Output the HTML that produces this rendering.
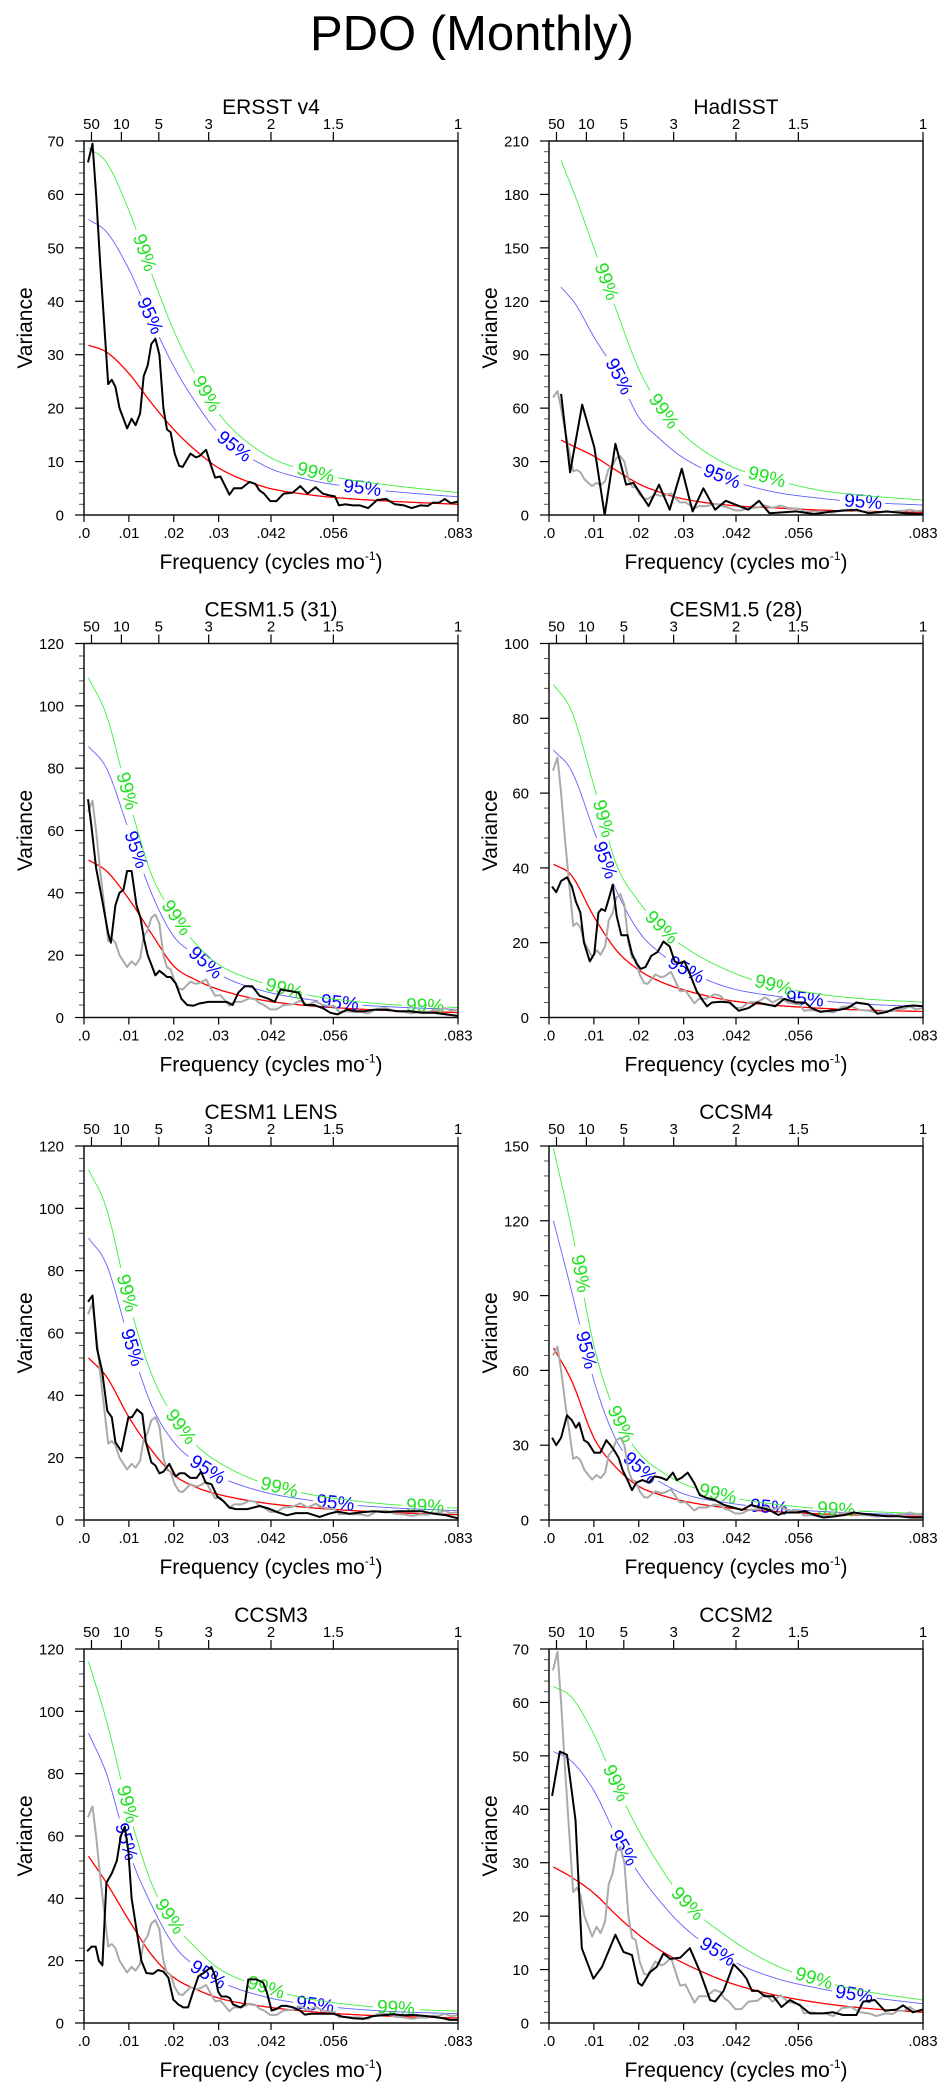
<!DOCTYPE html>
<html><head><meta charset="utf-8"><title>PDO (Monthly)</title>
<style>
html,body{margin:0;padding:0;background:#fff;}
svg{display:block;font-family:"Liberation Sans",Arial,sans-serif;}
</style></head>
<body>
<svg id="fig" width="945" height="2091" viewBox="0 0 945 2091" xmlns="http://www.w3.org/2000/svg">
<rect x="0" y="0" width="945" height="2091" fill="#fff"/>
<text x="472" y="50" font-size="49" text-anchor="middle">PDO (Monthly)</text>
</svg>
<script>
// ---------- data (frequencies in 1e-3 cycles/month) ----------
const panelTitles = ["ERSST v4","HadISST","CESM1.5 (31)","CESM1.5 (28)","CESM1 LENS","CCSM4","CCSM3","CCSM2"];
const yMaxes = [70,210,120,100,120,150,120,70];
const yMajorSteps = [10,30,20,20,20,30,20,10];
const bottomTickFreqs = [0,10,20,30,41.667,55.556,83.333];
const bottomTickLabels = [".0",".01",".02",".03",".042",".056",".083"];
const topTickPeriods = [50,10,5,3,2,1.5,1];
const topTickLabels = ["50","10","5","3","2","1.5","1"];

const curveFreq = [1,5,10,15,20,25,30,40,50,60,70,83.3];
const hadCurveFreq = [2.7,6,10,15,20,25,30,40,50,60,70,83.3];

const red1 = [31.8,30.5,26.5,21,16,12,8.8,5.3,3.8,3.0,2.5,2.0];
const sig95_1 = [55.3,53,46,36.5,27.8,20.9,15.3,9.3,6.6,5.2,4.3,3.4];
const sig99_1 = [68.7,66,57,45.3,34.5,26,19,11.5,8.2,6.5,5.4,4.2];
const red2 = [42,38,33,25,17.5,12.5,9,5.5,4,2.8,2.1,1.5];
const sig95_2 = [128,118,100,80,55,42,32,20,13,9.5,7.2,5.6];
const sig99_2 = [199,178,150,115,82,60,45,28,20,14,11,8.4];
const red3 = [50.5,47,38,27,16.5,12,9,5.5,3.8,2.8,2.1,1.6];
const sig95_3 = [87,80,60,40,26,20,14,8.5,5.8,4.2,3.3,2.6];
const sig99_3 = [109,97,70,46,33,23.5,17,11,7.2,5.2,4,3.2];
const red4 = [41,38,27,18,12.7,9.5,7.4,4.6,3.3,2.5,2,1.6];
const sig95_4 = [71.5,66,50,34,23,17,13,8,5.8,4.5,3.6,2.9];
const sig99_4 = [89,82,62,41,31,24,19,12.5,8.5,6.3,5,4.1];
const red5 = [52,46,33,22.5,14.5,10.5,8.2,5.5,4,3,2.3,1.7];
const sig95_5 = [90.5,82,58,37,25,18.5,14,9,6.4,4.8,3.8,3];
const sig99_5 = [112.5,100,70,47,33,24,18.5,11.8,8.3,6.2,4.8,3.8];
const red6 = [69,56,33,21,13.5,10,7.6,4.8,3.4,2.5,1.9,1.4];
const sig95_6 = [120,92,56,32,21,15,10.5,6.8,4.8,3.5,2.7,2];
const sig99_6 = [149,117,70,42,27,19.5,14.5,9.3,6.4,4.6,3.5,2.6];
const red7 = [53.5,45,33,22,14.6,10.8,8,5.3,3.7,2.7,2.1,1.6];
const sig95_7 = [93,80,55,38,25,18,13.5,8.5,6,4.5,3.6,3];
const sig99_7 = [116,97,68,45,32,24,17.5,11.5,7.8,5.8,4.6,3.8];
const red8 = [29.2,27.3,24.3,20.2,16.5,13.5,11.2,7.6,5.3,3.8,2.8,2];
const sig95_8 = [50.8,49,43.5,35,28,22.5,18,12,8.5,6.5,5,3.6];
const sig99_8 = [63,61,54,44.5,36,29,23,16,11,8,6,4.3];

const label99Freqs = [[13.4,27.2,51.6],[12.7,25.5,48.5],[9.5,20.5,44.6,76],[12,25,50],[9.5,21.5,43.5,76],[6.9,15.9,37.6,64],[9.6,19,40.5,69.5],[14.8,30.8,59]];
const label95Freqs = [[14.6,33.4,62],[15.5,38.5,70],[11.5,27,57],[12.4,30.5,57],[10.6,27.5,56],[8.2,20.2,49],[9.3,27.6,51.5],[16.5,37.5,68]];

const ersstFreq = [0.9,1.9,2.7,3.6,5.4,6.2,7.0,7.9,9.6,10.6,11.5,12.5,13.3,14.2,15.0,15.9,16.8,17.7,18.5,19.3,20.2,21.2,22.0,23.7,24.9,25.7,27.2,28.4,29.2,30.4,31.4,32.4,33.4,35.1,36.9,38.2,39.1,40.1,41.5,42.9,44.5,46.5,48.2,49.8,51.6,53.2,54.5,55.9,56.8,58.2,59.9,61.5,63.3,65.3,67.3,69.3,71.3,73.0,74.9,76.6,77.7,79.1,80.4,81.7,83.3];
const ersstVar = [66,69.5,60,47,24.5,25.3,24,20,16.2,18,16.8,19,26,28,32,33,30,20,16,15.5,11.5,9.2,9,11.5,10.8,11,12.2,9,7,7.2,5.5,3.8,5,5,6.2,5.8,4.6,4,2.6,2.6,4,4.2,5.4,4,5.2,4,3.7,3.5,1.8,2,1.8,1.8,1.3,2.8,3,2,1.8,1.3,1.8,1.7,2.3,2.3,3,2.2,2.5];

const hadFreq = [2.7,4.7,7.4,10.1,12.4,14.8,17.2,18.8,22.2,24.5,26.9,29.6,32.0,34.4,37.0,39.4,44.4,46.8,49.1,52.4,55.1,59.1,63.2,68.5,71.2,75.3,79.3,83.3];
const hadVar = [68,24,62,38,0,40,17,18,5,17,3,26,2,15,3,8,3,8,1,1.5,2,0.5,2,3,1,2,1,0.5];

const cesm31Freq = [0.9,1.6,2.7,4.0,5.4,6.0,7.0,7.9,8.8,9.6,10.6,11.7,12.6,13.4,14.2,15.0,15.9,16.8,17.7,18.5,19.3,20.4,21.7,23.0,24.4,25.7,27.7,29.7,31.8,33.1,34.4,35.8,37.5,39.1,41.1,42.5,43.8,45.8,47.8,49.2,51.2,53.2,54.9,56.5,58.6,60.6,62.6,64.6,67.3,69.9,72.6,75.3,78.0,80.7,83.3];
const cesm31Var = [70,62,48,38,27,24,36,40,41,47,47,36,32,25,20,17,13.5,15,14,13,13,11,6,4,3.8,4.5,5,5,5,4,8,10,10,7,6,5,9,8.5,8,4,4,3,1.5,1,2.5,2,2,2.5,2.5,2,2,1.5,1.5,1.0,0.5];

const cesm28Freq = [0.7,1.6,2.7,4.0,5.1,6.0,7.0,7.8,9.1,10.1,11.0,11.7,12.5,13.4,14.2,15.1,16.1,17.5,18.5,19.5,20.4,21.5,22.8,24.2,25.5,26.9,28.0,28.9,30.2,31.6,32.9,34.3,35.2,36.3,38.3,40.3,42.3,44.4,46.4,48.4,50.4,52.4,55.1,57.1,58.5,60.5,62.5,64.5,66.5,68.5,71.2,73.2,75.3,77.3,79.3,81.3,83.3];
const cesm28Var = [35,33.5,36.5,37.5,35,31,28,20,15,17,28,29,28.5,32,35.5,27,22,22,17,14.5,13,13.5,16.5,17.5,20.3,19,15,14.5,15,11,7,4.5,3,4,4.2,4,1.8,2.5,4,3.5,3,5,4,4,2.5,1.5,1.8,2,2.5,4,3.5,1,1.5,2.5,3,3.2,3];

const lensFreq = [0.9,1.9,2.9,4.0,5.2,6.2,7.0,8.3,9.9,10.7,11.8,13.0,13.8,15.0,15.9,16.8,17.7,19.0,20.4,21.3,22.4,23.7,25.1,26.1,27.1,28.4,29.7,31.1,32.4,33.8,36.4,39.1,41.1,43.1,45.2,47.2,49.8,52.5,54.5,56.5,59.2,61.9,64.6,67.3,69.9,72.6,75.3,78.0,80.7,83.3];
const lensVar = [70,72,55,48,35,33,25,22,33,33,35.5,34,25,18.5,17.5,15,15.5,18,14,15,15,13.5,13.5,15.5,12,11.5,7.5,6,4,3.5,3.5,4.5,3.7,2.5,1.5,2.2,2.2,1,2,2.7,2,2.5,2.8,2.5,2.8,2.8,2.8,2,1.5,0.5];

const ccsm4Freq = [0.7,1.6,2.7,4.0,5.1,6.0,6.7,7.8,8.7,10.1,11.4,12.8,13.7,14.5,15.5,16.4,17.5,18.5,19.5,20.8,22.2,23.5,24.9,26.2,27.6,28.5,29.6,30.9,32.3,33.6,34.9,37.0,39.0,41.0,43.0,45.0,47.0,49.1,51.1,52.4,55.1,57.1,59.1,61.2,63.8,65.9,67.9,69.9,72.6,75.3,77.9,80.6,83.3];
const ccsm4Var = [33,30,33,42,40,37,39,32,31,27,27,32,30,28,25,20,16,12,15,16,15,17.5,17,16,19,16,17,19,15,10,9,8,6,5,4,6,5,4,2,3,3,3.5,2,1,1.5,2,3,2.5,2,1.5,1.5,1,1];

const ccsm3Freq = [0.7,1.7,2.6,3.3,4.1,5.0,6.2,7.3,8.2,9.1,9.9,10.6,11.7,12.8,13.9,15.4,16.5,17.7,18.8,19.9,21.0,22.1,23.2,24.3,25.5,26.6,27.5,28.4,29.2,29.9,30.6,31.8,32.5,33.2,34.0,34.9,35.8,36.6,38.4,39.9,40.7,41.8,42.9,44.0,45.1,46.6,48.1,49.2,50.7,52.5,54.0,55.5,57.7,60.0,62.2,64.4,66.6,68.9,71.1,73.3,75.5,77.8,80.0,81.5,83.3];
const ccsm3Var = [23,24.5,24.5,20,18.5,45,48,52,60,63,55,40,30,20,16,15.8,17,16.5,14.5,7.5,6,5,5,10,15,16,17,18,15,10,8.5,8.5,8,6,5.5,5,6,14,14,13,10,4,4.5,5.5,5.5,5,4,2.7,3,3,3,3,2,1.5,1.3,2.2,2.5,2.8,2.5,2.6,2.3,2,1.5,1,1];

const ccsm2Freq = [0.7,2.4,4.0,5.9,7.3,9.9,11.8,14.8,16.6,18.5,19.9,20.7,22.5,24.0,25.5,27.0,29.2,31.4,33.7,35.9,37.0,38.9,41.1,42.9,44.0,45.2,46.6,48.1,50.0,51.8,53.7,55.9,58.1,61.1,63.3,65.5,68.5,70.0,72.6,74.8,77.4,78.9,81.1,83.3];
const ccsm2Var = [42.5,50.8,50.2,38,14,8.3,10.5,16.5,13.3,12.7,7.5,7,9.5,10.5,13,12,12.2,14,9.5,4.3,4,6,11,9.5,8.3,6,6,5,5,3,4.3,3.3,1.8,1.8,2,1.5,1.5,4,4.3,2.3,2.5,3.3,2,2.5];

// ---------- layout ----------
const colX = [84,549], rowY = [141,643.5,1146,1649], PW = 374, PH = 374, FMAX = 83.333;
const svg = document.getElementById('fig');
const NS = 'http://www.w3.org/2000/svg';
function mk(tag, attrs, parent){ const e=document.createElementNS(NS,tag); for(const k in attrs) e.setAttribute(k,attrs[k]); (parent||svg).appendChild(e); return e; }

function monotone(xs, ys){
  const n=xs.length, d=[], m=new Array(n);
  for(let i=0;i<n-1;i++) d.push((ys[i+1]-ys[i])/(xs[i+1]-xs[i]));
  m[0]=d[0]; m[n-1]=d[n-2];
  for(let i=1;i<n-1;i++) m[i]=(d[i-1]*d[i]<=0)?0:(d[i-1]+d[i])/2;
  for(let i=0;i<n-1;i++){ if(d[i]===0){m[i]=0;m[i+1]=0;continue;} const a=m[i]/d[i], b=m[i+1]/d[i], s=a*a+b*b; if(s>9){const t=3/Math.sqrt(s); m[i]=t*a*d[i]; m[i+1]=t*b*d[i];} }
  return function(x){
    let i=0; while(i<n-2 && x>xs[i+1]) i++;
    const h=xs[i+1]-xs[i], t=(x-xs[i])/h, t2=t*t, t3=t2*t;
    return (2*t3-3*t2+1)*ys[i]+(t3-2*t2+t)*h*m[i]+(-2*t3+3*t2)*ys[i+1]+(t3-t2)*h*m[i+1];
  };
}

const panels = [
  {series:[[ersstFreq,ersstVar]], cf:curveFreq, red:red1, s95:sig95_1, s99:sig99_1},
  {series:[[ersstFreq,ersstVar],[hadFreq,hadVar]], cf:hadCurveFreq, red:red2, s95:sig95_2, s99:sig99_2},
  {series:[[ersstFreq,ersstVar],[cesm31Freq,cesm31Var]], cf:curveFreq, red:red3, s95:sig95_3, s99:sig99_3},
  {series:[[ersstFreq,ersstVar],[cesm28Freq,cesm28Var]], cf:curveFreq, red:red4, s95:sig95_4, s99:sig99_4},
  {series:[[ersstFreq,ersstVar],[lensFreq,lensVar]], cf:curveFreq, red:red5, s95:sig95_5, s99:sig99_5},
  {series:[[ersstFreq,ersstVar],[ccsm4Freq,ccsm4Var]], cf:curveFreq, red:red6, s95:sig95_6, s99:sig99_6},
  {series:[[ersstFreq,ersstVar],[ccsm3Freq,ccsm3Var]], cf:curveFreq, red:red7, s95:sig95_7, s99:sig99_7},
  {series:[[ersstFreq,ersstVar],[ccsm2Freq,ccsm2Var]], cf:curveFreq, red:red8, s95:sig95_8, s99:sig99_8}
];

panels.forEach(function(p, idx){
  const L=colX[idx%2], T=rowY[Math.floor(idx/2)], R=L+PW, B=T+PH, ymax=yMaxes[idx];
  const xs=f=>L+f/FMAX*PW, ys=v=>B-v/ymax*PH;
  const g=mk('g',{});
  
  
  const cid='clip'+idx;
  const cp=mk('clipPath',{id:cid},g); mk('rect',{x:L,y:T,width:PW,height:PH},cp);

  const tt=mk('text',{x:L+PW/2,y:T-27,'font-size':21,'text-anchor':'middle'},g); tt.textContent=panelTitles[idx];
   

  const step=yMajorSteps[idx];
  for(let v=0; v<=ymax+1e-6; v+=step){
    const tk=mk('line',{x1:L-9,x2:L,y1:ys(v),y2:ys(v),stroke:'#000','stroke-width':1.2},g);
     
    const lb=mk('text',{x:L-20,y:ys(v)+5.5,'font-size':15,'text-anchor':'end'},g); lb.textContent=String(v);
     
    if(v<ymax) for(let k=1;k<5;k++){ const mv=v+step*k/5; const mt=mk('line',{x1:L-5,x2:L,y1:ys(mv),y2:ys(mv),stroke:'#555','stroke-width':1},g);
        }
  }
  bottomTickFreqs.forEach(function(f,i){
    const tk=mk('line',{x1:xs(f),x2:xs(f),y1:B,y2:B+7,stroke:'#000','stroke-width':1.2},g);
     
    const lb=mk('text',{x:xs(f),y:B+23,'font-size':15,'text-anchor':'middle'},g); lb.textContent=bottomTickLabels[i];
     
  });
  topTickPeriods.forEach(function(P,i){
    const f=1000/(12*P);
    const tk=mk('line',{x1:xs(f),x2:xs(f),y1:T-9,y2:T,stroke:'#000','stroke-width':1.2},g);
     
    const lb=mk('text',{x:xs(f),y:T-12,'font-size':15,'text-anchor':'middle'},g); lb.textContent=topTickLabels[i];
     
  });
  const yt=mk('text',{x:0,y:0,'font-size':21,'text-anchor':'middle',transform:'translate('+(L-52)+','+(T+PH/2)+') rotate(-90)'},g);
  yt.textContent='Variance';  
  const xt=mk('text',{x:L+PW/2,y:B+54,'font-size':21,'text-anchor':'middle'},g);
  xt.innerHTML='Frequency (cycles mo<tspan font-size="12" dy="-9">-1</tspan><tspan dy="9">)</tspan>';
   

  function drawCurve(vals, color, width, labels, labelText, labelColor, name){
    const fn=monotone(p.cf, vals), f0=p.cf[0], f1=p.cf[p.cf.length-1], pts=[];
    for(let i=0;i<=240;i++){ const f=f0+(f1-f0)*i/240; pts.push([xs(f),ys(fn(f))]); }
    const centers=(labels||[]).map(function(f){ const x=xs(f), y=ys(fn(f)); const dx=xs(f+0.5)-xs(f-0.5), dy=ys(fn(f+0.5))-ys(fn(f-0.5)); return [x,y,Math.atan2(dy,dx)*180/Math.PI]; });
    let d='', pen=false;
    pts.forEach(function(q){
      const hide=centers.some(c=>Math.hypot(q[0]-c[0],q[1]-c[1])<22);
      if(hide){pen=false;return;}
      d+=(pen?'L':'M')+q[0].toFixed(1)+' '+q[1].toFixed(1); pen=true;
    });
    const path=mk('path',{d:d,fill:'none',stroke:color,'stroke-width':width,'clip-path':'url(#'+cid+')'},g);
     
    centers.forEach(function(c){
      const t=mk('text',{x:0,y:0,'font-size':19,'text-anchor':'middle','dominant-baseline':'central',fill:labelColor,transform:'translate('+c[0].toFixed(1)+','+c[1].toFixed(1)+') rotate('+c[2].toFixed(1)+')'},g);
      t.textContent=labelText;  
    });
  }
  drawCurve(p.red,'#ff0000',1.3,null,'','', 'red-noise-curve');
  drawCurve(p.s95,'#6060ff',0.9,label95Freqs[idx],'95%','#0000ff','sig95-curve');
  drawCurve(p.s99,'#3ef03e',0.9,label99Freqs[idx],'99%','#22e022','sig99-curve');

  p.series.forEach(function(s,si){
    const fr=s[0], vv=s[1], n=Math.min(fr.length,vv.length); let d='';
    for(let i=0;i<n;i++) d+=(i?'L':'M')+xs(fr[i]).toFixed(1)+' '+ys(vv[i]).toFixed(1);
    const isObs=(p.series.length>1 && si===0);
    const path=mk('path',{d:d,fill:'none',stroke:isObs?'#aaaaaa':'#000','stroke-width':2,'stroke-linejoin':'round','clip-path':'url(#'+cid+')'},g);
     
  });

  const fr=mk('rect',{x:L,y:T,width:PW,height:PH,fill:'none',stroke:'#111','stroke-width':1.5},g);
   
});
</script>
</body></html>
